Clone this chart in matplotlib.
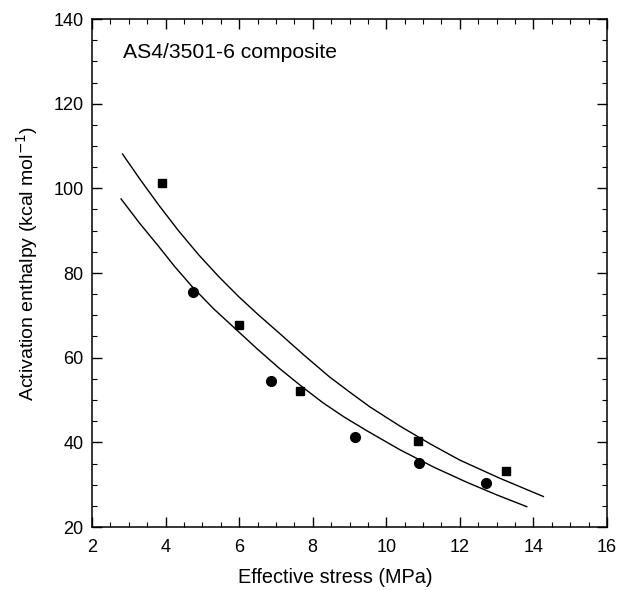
import matplotlib
matplotlib.use("Agg")
import matplotlib.pyplot as plt
from matplotlib.ticker import MultipleLocator

# Data
square_x = [3.9, 6.0, 7.65, 10.85, 13.25]
square_y = [101.3, 67.7, 52.2, 40.4, 33.2]
circle_x = [4.75, 6.87, 9.16, 10.89, 12.71]
circle_y = [75.6, 54.4, 41.3, 35.2, 30.3]

# Fitted curves
upper_x = [2.83, 3.30, 3.81, 4.35, 4.90, 5.45, 5.99, 6.50, 7.09, 7.75, 8.45, 9.00, 9.55, 10.36, 11.2, 12.0, 13.09, 14.27]
upper_y = [108.1, 102.2, 96.1, 90.0, 84.3, 79.1, 74.4, 70.3, 65.8, 60.7, 55.5, 51.9, 48.4, 43.9, 39.6, 35.8, 31.5, 27.2]
lower_x = [2.79, 3.30, 3.81, 4.25, 4.72, 5.30, 5.90, 6.50, 7.09, 7.70, 8.27, 8.85, 9.46, 10.36, 11.3, 12.18, 13.0, 13.82]
lower_y = [97.5, 91.7, 86.3, 81.5, 76.8, 71.6, 66.8, 62.0, 57.5, 53.2, 49.4, 46.0, 42.8, 38.3, 34.1, 30.6, 27.6, 24.8]

x_ticks = [2, 4, 6, 8, 10, 12, 14, 16]
y_ticks = [20, 40, 60, 80, 100, 120, 140]

plt.rcParams['font.family'] = ['Liberation Sans', 'DejaVu Sans']

fig = plt.figure(figsize=(6.27, 5.90), dpi=100)
ax = fig.add_axes([92/627, 1 - 527/590, (607-92)/627, (527-19)/590])

ax.plot(upper_x, upper_y, color='black', lw=1.0, solid_joinstyle='round')
ax.plot(lower_x, lower_y, color='black', lw=1.0, solid_joinstyle='round')
ax.plot(square_x, square_y, 's', color='black', ms=6, mec='black')
ax.plot(circle_x, circle_y, 'o', color='black', ms=7, mec='black')

ax.set_xlim(2, 16)
ax.set_ylim(20, 140)
ax.set_xticks(x_ticks)
ax.set_yticks(y_ticks)
ax.xaxis.set_minor_locator(MultipleLocator(0.5))
ax.yaxis.set_minor_locator(MultipleLocator(5))
ax.tick_params(which='both', direction='in', top=True, right=True, labelsize=13, color='black')
ax.tick_params(which='major', length=7, width=1.0, pad=6)
ax.tick_params(axis='x', which='major', pad=9)
ax.tick_params(which='minor', length=3.5, width=0.8)
for s in ax.spines.values():
    s.set_linewidth(1.1)

ax.set_xlabel('Effective stress (MPa)', fontsize=14.3)
ax.xaxis.set_label_coords(0.472, -0.080)
ax.set_ylabel('Activation enthalpy (kcal mol$^{-1}$)', fontsize=14)
ax.yaxis.set_label_coords(-0.101, 0.518)
ax.text(0.06, 0.935, 'AS4/3501-6 composite', transform=ax.transAxes, fontsize=15.2, va='center', ha='left')

fig.savefig('out.png', dpi=100)
